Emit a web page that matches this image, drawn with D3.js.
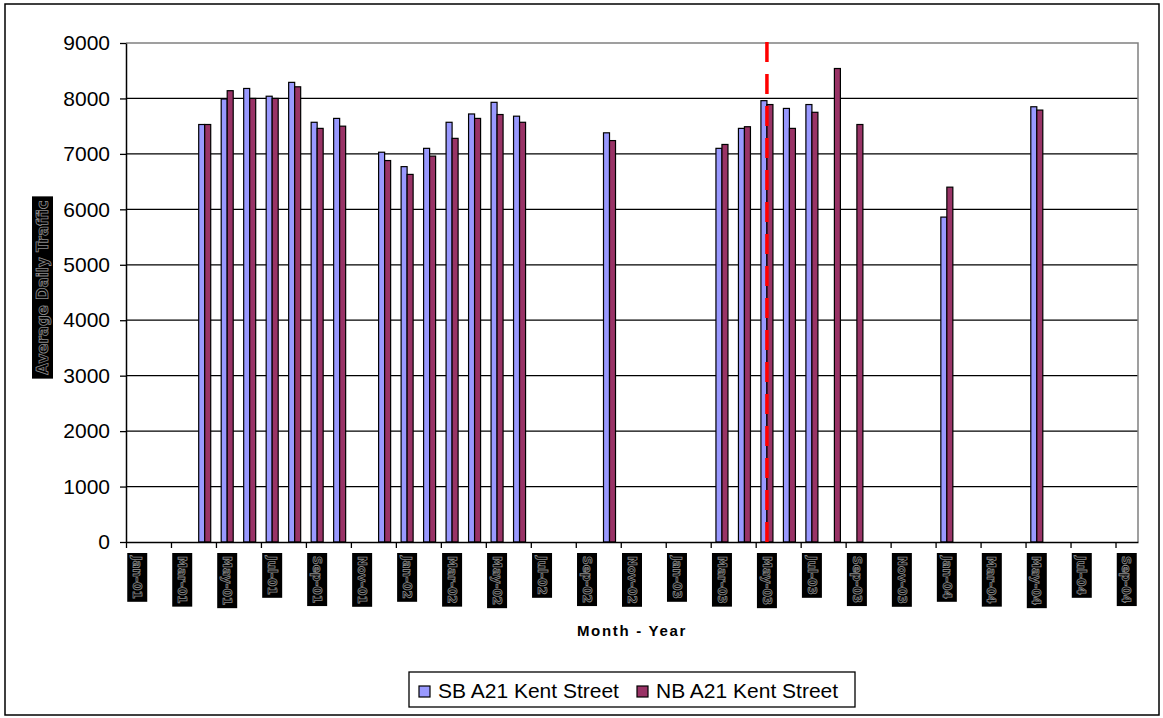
<!DOCTYPE html>
<html>
<head>
<meta charset="utf-8">
<script src="https://d3js.org/d3.v7.min.js"></script>
<style>
  body { margin: 0; background: #fff; }
  svg { display: block; }
</style>
</head>
<body>
<svg width="1163" height="718" class="chart"></svg>

<script>
  // months on the category axis (Jan-01 .. Sep-04)
  const months = [
    "Jan-01", "Feb-01", "Mar-01", "Apr-01", "May-01", "Jun-01", "Jul-01", "Aug-01", "Sep-01", "Oct-01", "Nov-01", "Dec-01",
    "Jan-02", "Feb-02", "Mar-02", "Apr-02", "May-02", "Jun-02", "Jul-02", "Aug-02", "Sep-02", "Oct-02", "Nov-02", "Dec-02",
    "Jan-03", "Feb-03", "Mar-03", "Apr-03", "May-03", "Jun-03", "Jul-03", "Aug-03", "Sep-03", "Oct-03", "Nov-03", "Dec-03",
    "Jan-04", "Feb-04", "Mar-04", "Apr-04", "May-04", "Jun-04", "Jul-04", "Aug-04", "Sep-04"
  ];

  // average daily traffic, null = no count that month
  const sbValues = [
    null, null, null, 7530, 7990, 8180, 8040, 8290, 7570, 7640, null, 7030,
    6770, 7100, 7570, 7720, 7930, 7680, null, null, null, 7380, null, null,
    null, null, 7100, 7460, 7960, 7820, 7890, null, null, null, null, null,
    5860, null, null, null, 7850, null, null, null, null
  ];
  const nbValues = [
    null, null, null, 7530, 8140, 8000, 8000, 8210, 7460, 7500, null, 6880,
    6630, 6960, 7280, 7640, 7710, 7570, null, null, null, 7240, null, null,
    null, null, 7170, 7490, 7890, 7460, 7750, 8540, 7530, null, null, null,
    6400, null, null, null, 7790, null, null, null, null
  ];

  const seriesNames = ["SB A21 Kent Street", "NB A21 Kent Street"];
  const yTicks = [0, 1000, 2000, 3000, 4000, 5000, 6000, 7000, 8000, 9000];
  const markerMonth = "May-03";

  const sbColor = "#9999ff";
  const nbColor = "#993366";

  const svg = d3.select(".chart");

  // outer chart frame
  svg.append("rect")
    .attr("x", 5).attr("y", 4)
    .attr("width", 1154).attr("height", 711)
    .attr("fill", "#fff")
    .attr("stroke", "#000")
    .attr("stroke-width", 1.5);

  const plotLeft = 126, plotRight = 1138, plotTop = 43, plotBottom = 542;

  const x = d3.scaleBand()
    .domain(months)
    .range([plotLeft, plotRight])
    .paddingInner(0.466)
    .paddingOuter(0.233);
  const xSub = d3.scaleBand().domain([0, 1]).range([0, x.bandwidth()]);
  const xEdge = d3.scaleLinear().domain([0, months.length]).range([plotLeft, plotRight]);
  const y = d3.scaleLinear().domain([0, 9000]).range([plotBottom, plotTop]);

  // gridlines
  svg.append("g")
    .selectAll("line")
    .data(yTicks.filter(d => d > 0 && d < 9000))
    .enter().append("line")
    .attr("x1", plotLeft).attr("x2", plotRight)
    .attr("y1", d => y(d)).attr("y2", d => y(d))
    .attr("stroke", "#000")
    .attr("stroke-width", 1.3);

  // plot area border (top / right)
  svg.append("path")
    .attr("d", `M${plotLeft},${plotTop}H${plotRight}V${plotBottom}`)
    .attr("fill", "none")
    .attr("stroke", "#808080")
    .attr("stroke-width", 1.5);

  // bars
  const rows = months.map((m, i) => ({ month: m, vals: [sbValues[i], nbValues[i]] }));
  const colors = [sbColor, nbColor];
  [0, 1].forEach(s => {
    svg.append("g")
      .selectAll("rect")
      .data(rows.filter(d => d.vals[s] != null))
      .enter().append("rect")
      .attr("x", d => x(d.month) + xSub(s))
      .attr("y", d => y(d.vals[s]))
      .attr("width", xSub.bandwidth())
      .attr("height", d => y(0) - y(d.vals[s]))
      .attr("fill", colors[s])
      .attr("stroke", "#000")
      .attr("stroke-width", 1.2);
  });

  // y axis
  const yAxis = svg.append("g")
    .attr("transform", `translate(${plotLeft},0)`)
    .call(d3.axisLeft(y).tickValues(yTicks).tickFormat(d3.format("d"))
      .tickSize(6).tickSizeOuter(0).tickPadding(10));
  yAxis.select(".domain").attr("stroke", "#000").attr("stroke-width", 1.5);
  yAxis.selectAll(".tick line").attr("stroke", "#000").attr("stroke-width", 1.3);
  yAxis.selectAll("text")
    .style("font-family", "'Liberation Sans', Arial, sans-serif")
    .style("font-size", "21px")
    .attr("fill", "#000");

  // x axis: ticks on every second category boundary
  const xAxis = svg.append("g")
    .attr("transform", `translate(0,${plotBottom})`)
    .call(d3.axisBottom(xEdge).tickValues(d3.range(0, months.length, 2)).tickSize(6).tickSizeOuter(0).tickFormat(""));
  xAxis.select(".domain").attr("stroke", "#000").attr("stroke-width", 1.5);
  xAxis.selectAll(".tick line").attr("stroke", "#000").attr("stroke-width", 1.3);

  // x labels: rotated text in dark boxes
  const labelG = svg.append("g")
    .selectAll("g")
    .data(months.filter((d, i) => i % 2 === 0))
    .enter().append("g")
    .attr("transform", d => `translate(${x(d) + x.bandwidth() / 2},553)`);
  labelG.append("rect").attr("fill", "#000");
  const labels = labelG.append("text")
    .attr("transform", "translate(0,3) rotate(90)")
    .attr("dy", "0.36em")
    .style("font-family", "'DejaVu Sans', Verdana, sans-serif")
    .style("font-size", "12px")
    .style("font-weight", "bold")
    .attr("fill", "#000")
    .attr("stroke", "#8a8a8a")
    .attr("stroke-width", 0.8)
    .text(d => d);
  labels.each(function () {
    const len = this.getComputedTextLength();
    d3.select(this.previousSibling)
      .attr("x", -10).attr("y", 0)
      .attr("width", 20).attr("height", len + 6);
  });

  // axis titles
  svg.append("text")
    .attr("x", (plotLeft + plotRight) / 2)
    .attr("y", 636)
    .attr("text-anchor", "middle")
    .style("font-family", "'Liberation Sans', Arial, sans-serif")
    .style("font-size", "15px")
    .style("font-weight", "bold")
    .style("letter-spacing", "1.7px")
    .text("Month - Year");

  const yTitle = svg.append("g").attr("transform", "translate(42.5,287.5)");
  const yTitleBox = yTitle.append("rect").attr("fill", "#000");
  const yTitleText = yTitle.append("text")
    .attr("transform", "rotate(-90)")
    .attr("text-anchor", "middle")
    .attr("dy", "0.36em")
    .style("font-family", "'DejaVu Sans', Verdana, sans-serif")
    .style("font-size", "15px")
    .style("font-weight", "bold")
    .attr("fill", "#000")
    .attr("stroke", "#8a8a8a")
    .attr("stroke-width", 0.8)
    .text("Average Daily Traffic");
  const tl = yTitleText.node().getComputedTextLength() + 8;
  yTitleBox.attr("x", -10.5).attr("y", -tl / 2).attr("width", 21).attr("height", tl);

  // red dashed marker line
  svg.append("line")
    .attr("x1", x(markerMonth) + x.bandwidth() / 2)
    .attr("x2", x(markerMonth) + x.bandwidth() / 2)
    .attr("y1", y(9000) - 1)
    .attr("y2", y(0) + 3)
    .attr("stroke", "#ff0000")
    .attr("stroke-width", 3.5)
    .attr("stroke-dasharray", "20,12");

  // legend
  const legend = svg.append("g");
  legend.append("rect")
    .attr("x", 409).attr("y", 672)
    .attr("width", 446).attr("height", 35)
    .attr("fill", "#fff")
    .attr("stroke", "#000")
    .attr("stroke-width", 1.3);
  const legendX = [419, 637];
  seriesNames.forEach((name, i) => {
    legend.append("rect")
      .attr("x", legendX[i]).attr("y", 686)
      .attr("width", 11).attr("height", 11)
      .attr("fill", colors[i])
      .attr("stroke", "#000")
      .attr("stroke-width", 1.2);
    legend.append("text")
      .attr("x", legendX[i] + 19)
      .attr("y", 698)
      .style("font-family", "'Liberation Sans', Arial, sans-serif")
      .style("font-size", "21px")
      .text(name);
  });
</script>
</body>
</html>
